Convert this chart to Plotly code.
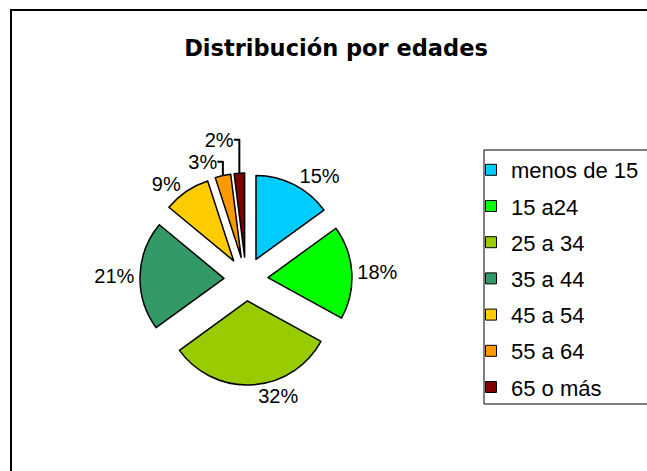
import plotly.graph_objects as go

# data
age_groups = ["menos de 15", "15 a24", "25 a 34", "35 a 44", "45 a 54", "55 a 64", "65 o más"]
shares = [15, 18, 32, 21, 9, 3, 2]
slice_colors = ["#00CCFF", "#00FF00", "#99CC00", "#339966", "#FFCC00", "#FF9900", "#800000"]

W, H = 647, 471

fig = go.Figure()

fig.add_trace(
    go.Pie(
        labels=age_groups,
        values=shares,
        sort=False,
        direction="clockwise",
        rotation=0,
        pull=0.262,
        marker=dict(colors=slice_colors, line=dict(color="#000000", width=1.5)),
        texttemplate="%{value}%",
        textposition="outside",
        textfont=dict(family="Liberation Sans, Arial", size=20, color="#000000"),
        domain=dict(x=[140 / W, 352 / W], y=[86 / H, 298 / H]),
        showlegend=False,
        hoverinfo="label+percent",
    )
)

# legend entries (one group each so the row spacing can be set)
for name, color in zip(age_groups, slice_colors):
    fig.add_trace(
        go.Scatter(
            x=[None], y=[None], mode="markers", name=name, legendgroup=name,
            marker=dict(symbol="square", size=11, color=color, line=dict(color="#000000", width=1)),
        )
    )

fig.update_layout(
    width=W,
    height=H,
    margin=dict(l=0, r=0, t=0, b=0),
    paper_bgcolor="white",
    plot_bgcolor="white",
    xaxis=dict(visible=False),
    yaxis=dict(visible=False),
    title=dict(
        text="<b>Distribución por edades</b>",
        x=336 / W, xanchor="center",
        y=1 - 48 / H, yanchor="middle",
        font=dict(family="DejaVu Sans", size=22.5, color="#000000"),
    ),
    legend=dict(
        x=471 / W, xanchor="left",
        y=1 - 149 / H, yanchor="top",
        traceorder="grouped",
        tracegroupgap=4.6,
        borderwidth=0,
        bgcolor="rgba(0,0,0,0)",
        font=dict(family="Liberation Sans, Arial", size=22, color="#000000"),
    ),
    shapes=[
        # chart area frame
        dict(type="rect", xref="paper", yref="paper",
             x0=11 / W, x1=1.02, y0=-0.02, y1=1 - 10 / H,
             line=dict(color="#000000", width=2), layer="below"),
        # legend frame
        dict(type="rect", xref="paper", yref="paper",
             x0=484 / W, x1=1.02, y0=1 - 404 / H, y1=1 - 150 / H,
             line=dict(color="#000000", width=1), layer="below"),
    ],
)

# drop the default page margin so the figure sits at the window origin
fig.write_html(
    "out.html",
    config={"displayModeBar": False},
    post_script="document.body.style.margin = '0';",
)
